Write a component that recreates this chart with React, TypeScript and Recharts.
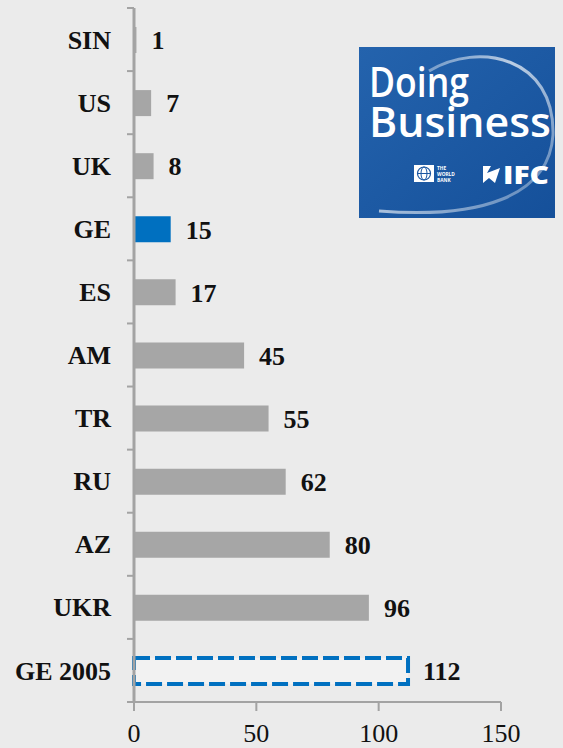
import React from "react";
import { Bar, BarChart, Cell, LabelList, XAxis, YAxis } from "recharts";

const countries = ["SIN", "US", "UK", "GE", "ES", "AM", "TR", "RU", "AZ", "UKR", "GE 2005"];
const ranks = [1, 7, 8, 15, 17, 45, 55, 62, 80, 96, 112];
const xTicks = [0, 50, 100, 150];
const highlight = "GE";
const previous = "GE 2005";

const data = countries.map((name, i) => ({ name, rank: ranks[i] }));

const W = 563;
const H = 748;
const AXIS_W = 134;
const X_AXIS_H = 46;
const margin = { top: 8, right: 62, bottom: 0, left: 0 };
const band = (H - margin.top - margin.bottom - X_AXIS_H) / countries.length;
const serif = "'Liberation Serif', 'Times New Roman', serif";
const axisGray = "#a3a3a3";

const CountryTick = (props: any) => {
  const { y, payload, index } = props;
  const top = y - band / 2;
  return (
    <g>
      <line x1={AXIS_W - 7} x2={AXIS_W} y1={top} y2={top} stroke={axisGray} strokeWidth={2} />
      {index === countries.length - 1 && (
        <line x1={AXIS_W - 7} x2={AXIS_W} y1={y + band / 2} y2={y + band / 2} stroke={axisGray} strokeWidth={2} />
      )}
      <text
        x={AXIS_W - 23}
        y={y}
        dy="0.35em"
        textAnchor="end"
        fontFamily={serif}
        fontWeight="bold"
        fontSize={26}
        fill="#111"
      >
        {payload.value}
      </text>
    </g>
  );
};

const Logo = () => (
  <svg
    width={196}
    height={171}
    style={{ position: "absolute", left: 359, top: 47 }}
  >
    <defs>
      <linearGradient id="logoBg" x1="0" y1="0" x2="1" y2="1">
        <stop offset="0%" stopColor="#2463ad" />
        <stop offset="100%" stopColor="#15509a" />
      </linearGradient>
      <linearGradient id="arcGrad" x1="0" y1="0" x2="1" y2="1">
        <stop offset="0%" stopColor="#ffffff" stopOpacity={0.15} />
        <stop offset="40%" stopColor="#ffffff" stopOpacity={0.7} />
        <stop offset="100%" stopColor="#ffffff" stopOpacity={0.25} />
      </linearGradient>
    </defs>
    <rect width={196} height={171} fill="url(#logoBg)" />
    <path
      d="M 70 24 C 120 -6, 196 10, 194 88 C 190 150, 120 172, 20 164"
      fill="none"
      stroke="url(#arcGrad)"
      strokeWidth={3}
    />
    <g fontFamily="'Open Sans', 'Noto Sans', sans-serif" fill="#ffffff">
      <text x={10} y={50} fontSize={41} fontWeight={600} textLength={100} lengthAdjust="spacingAndGlyphs">
        Doing
      </text>
      <text x={10} y={90} fontSize={41} fontWeight={600} textLength={182} lengthAdjust="spacingAndGlyphs">
        Business
      </text>
      <rect x={55} y={118} width={20} height={17} fill="#ffffff" />
      <circle cx={65} cy={126.5} r={6.5} fill="none" stroke="#1b57a2" strokeWidth={1.2} />
      <line x1={58.5} x2={71.5} y1={126.5} y2={126.5} stroke="#1b57a2" strokeWidth={1} />
      <ellipse cx={65} cy={126.5} rx={3} ry={6.5} fill="none" stroke="#1b57a2" strokeWidth={1} />
      <text x={78} y={123} fontSize={4.8} fontWeight={700}>THE</text>
      <text x={78} y={129} fontSize={4.8} fontWeight={700}>WORLD</text>
      <text x={78} y={135} fontSize={4.8} fontWeight={700}>BANK</text>
      <path d="M 124 119 L 132 119 L 128 126 L 141 121 L 136 136 L 130 131 L 124 136 Z" fill="#ffffff" />
      <text x={144} y={137} fontSize={25} fontWeight={800} textLength={46} lengthAdjust="spacingAndGlyphs">
        IFC
      </text>
    </g>
  </svg>
);

export default function App() {
  return (
    <div
      style={{
        position: "absolute",
        left: 0,
        top: 0,
        width: W,
        height: H,
        background: "#ebebeb",
      }}
    >
      <BarChart width={W} height={H} data={data} layout="vertical" margin={margin}>
        <XAxis
          type="number"
          domain={[0, 150]}
          ticks={xTicks}
          height={X_AXIS_H}
          axisLine={{ stroke: axisGray, strokeWidth: 2 }}
          tickLine={{ stroke: axisGray, strokeWidth: 2 }}
          tickSize={9}
          tickMargin={13}
          tick={{ fontSize: 26, fontFamily: serif, fill: "#111" }}
        />
        <YAxis
          type="category"
          dataKey="name"
          width={AXIS_W}
          interval={0}
          axisLine={{ stroke: axisGray, strokeWidth: 3 }}
          tickLine={false}
          tick={<CountryTick />}
        />
        <Bar dataKey="rank" barSize={26} isAnimationActive={false}>
          {data.map((d) =>
            d.name === previous ? (
              <Cell key={d.name} fill="#f2f2f2" stroke="#0070c0" strokeWidth={4} strokeDasharray="16 5" />
            ) : (
              <Cell key={d.name} fill={d.name === highlight ? "#0070c0" : "#a6a6a6"} />
            )
          )}
          <LabelList
            dataKey="rank"
            position="right"
            offset={15}
            fill="#111"
            fontSize={26}
            fontWeight="bold"
            fontFamily={serif}
          />
        </Bar>
      </BarChart>
      <Logo />
    </div>
  );
}
